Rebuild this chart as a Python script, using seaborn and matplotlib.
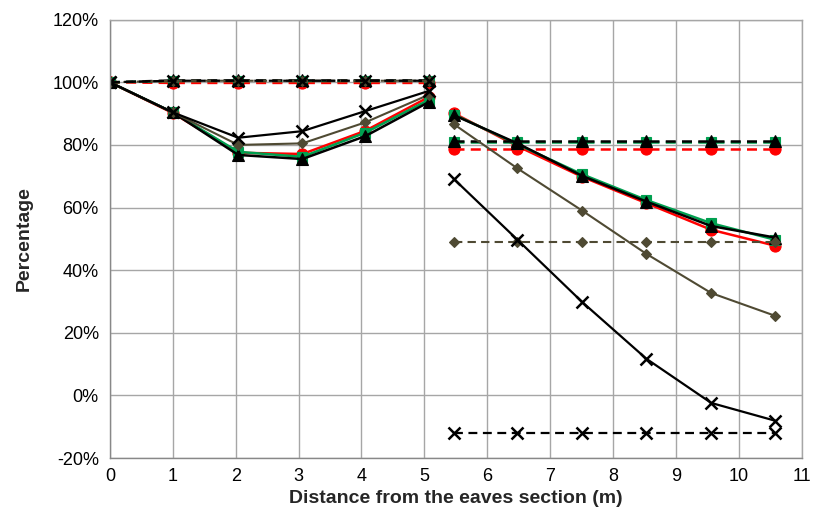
import matplotlib
matplotlib.use("Agg")
import matplotlib.pyplot as plt
import seaborn as sns
import pandas as pd
from matplotlib.ticker import FuncFormatter

# ---- data ----
x_left = [0, 1.0, 2.04, 3.06, 4.06, 5.08]
x_right = [5.47, 6.48, 7.51, 8.53, 9.56, 10.58]

series_names = ["red", "green", "triangle", "diamond", "cross"]

solid_left = {
    "red":      [100, 90.2, 77.5, 77.1, 84.5, 95.4],
    "green":    [100, 90.4, 77.8, 76.2, 83.9, 94.5],
    "triangle": [100, 90.4, 76.8, 75.5, 82.8, 93.8],
    "diamond":  [100, 90.4, 80.0, 80.5, 87.2, 96.1],
    "cross":    [100, 90.4, 82.3, 84.4, 90.8, 97.3],
}
solid_right = {
    "red":      [90.1, 79.6, 69.8, 61.4, 52.9, 47.8],
    "green":    [89.7, 80.2, 70.6, 62.4, 55.0, 49.7],
    "triangle": [89.5, 80.5, 70.1, 61.9, 54.1, 50.4],
    "diamond":  [86.6, 72.5, 59.0, 45.2, 32.7, 25.4],
    "cross":    [69.1, 49.7, 29.8, 11.7, -2.4, -8.1],
}
dashed_left = {
    "red":      [100, 99.8, 99.8, 99.8, 99.8, 99.8],
    "green":    [100, 100.4, 100.4, 100.4, 100.4, 100.4],
    "triangle": [100, 100.6, 100.6, 100.6, 100.6, 100.6],
    "diamond":  [100, 100.5, 100.5, 100.5, 100.5, 100.5],
    "cross":    [100, 100.5, 100.5, 100.5, 100.5, 100.5],
}
dashed_right = {
    "red":      [78.7, 78.7, 78.7, 78.7, 78.7, 78.7],
    "green":    [80.8, 80.8, 80.8, 80.8, 80.8, 80.8],
    "triangle": [81.4, 81.4, 81.4, 81.4, 81.4, 81.4],
    "diamond":  [49.0, 49.0, 49.0, 49.0, 49.0, 49.0],
    "cross":    [-12.0, -12.0, -12.0, -12.0, -12.0, -12.0],
}

x_ticks = list(range(0, 12))
y_ticks = [-20, 0, 20, 40, 60, 80, 100, 120]

# ---- styles ----
colors = {"red": "#FF0000", "green": "#00A050", "triangle": "#000000",
          "diamond": "#4F4A33", "cross": "#000000"}
markers = {"red": "o", "green": "s", "triangle": "^", "diamond": "D", "cross": "x"}
msizes = {"red": 8, "green": 7, "triangle": 8, "diamond": 5.5, "cross": 8}
lwidths = {"red": 1.8, "green": 1.8, "triangle": 1.8, "diamond": 1.5, "cross": 1.6}

sns.set_theme(style="white")
plt.rcParams["font.family"] = ["Liberation Sans", "DejaVu Sans"]

fig = plt.figure(figsize=(8.14, 5.32), dpi=100)
ax = fig.add_axes([0.135, 0.139, 0.850, 0.824])

for name in series_names:
    c = colors[name]
    m = markers[name]
    ms = msizes[name]
    mew = 1.8 if m == "x" else 0.8
    for xs, ys, ls in [(x_left, solid_left[name], "-"),
                       (x_right, solid_right[name], "-"),
                       (x_left, dashed_left[name], (0, (4, 2.5))),
                       (x_right, dashed_right[name], (0, (4, 2.5)))]:
        df = pd.DataFrame({"x": xs, "y": ys})
        sns.lineplot(data=df, x="x", y="y", ax=ax, color=c, marker=m,
                     markersize=ms, markeredgecolor=c, markeredgewidth=mew,
                     linestyle=ls, linewidth=lwidths[name], estimator=None,
                     sort=False, legend=False)

ax.set_xlim(0, 11)
ax.set_ylim(-20, 120)
ax.set_xticks(x_ticks)
ax.set_yticks(y_ticks)
ax.yaxis.set_major_formatter(FuncFormatter(lambda v, p: f"{int(round(v))}%"))
ax.grid(True, color="#A6A6A6", linewidth=1.0)
ax.set_axisbelow(True)
for s in ax.spines.values():
    s.set_color("#A6A6A6")
    s.set_linewidth(1.0)
ax.spines["left"].set_color("#888888")
ax.spines["bottom"].set_color("#888888")
ax.tick_params(axis="both", which="both", direction="out", length=4,
               color="#888888", labelsize=13, labelcolor="black", pad=4)
ax.tick_params(axis="x", pad=3)
ax.set_xlabel("Distance from the eaves section (m)", fontsize=14,
              fontweight="bold", labelpad=4)
ax.set_ylabel("Percentage", fontsize=14, fontweight="bold", labelpad=14)

fig.savefig("out.png", dpi=100)
